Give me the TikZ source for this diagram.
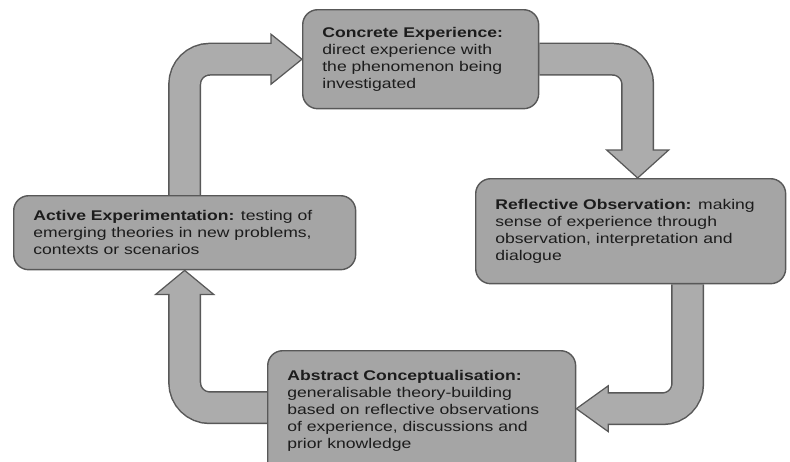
\documentclass[tikz,border=0pt]{standalone}
\usepackage{fontspec}
\newfontfamily\boxfont[FakeStretch=1.25]{Liberation Sans}
\usetikzlibrary{calc,backgrounds}
\definecolor{boxgray}{RGB}{165,165,165}
\definecolor{arrgray}{RGB}{172,172,172}
\definecolor{edgegray}{RGB}{88,88,88}
\definecolor{txtgray}{RGB}{28,28,28}

\begin{document}
\begin{tikzpicture}[x=0.02cm, y=-0.02cm,
    stage/.style={draw=edgegray, fill=boxgray, rounded corners=0.3cm, line width=0.8pt, anchor=north west, inner sep=0pt},
    txt/.style={anchor=west, align=left, inner sep=0pt, xshift=0.4cm, text=txtgray, font=\boxfont\fontsize{8}{9.6}\selectfont},
    bandout/.style={draw=edgegray, line width=0.66cm, rounded corners=0.5cm},
    bandin/.style={draw=arrgray, line width=0.6cm, rounded corners=0.5cm},
    head/.style={draw=edgegray, fill=arrgray, line width=0.7pt, line join=miter}
]
\useasboundingbox (0,0) rectangle (790,461);

% the four stages
\node[stage, minimum width=4.72cm, minimum height=1.98cm] (conc) at (302,9) {};
\node[stage, minimum width=6.2cm, minimum height=2.1cm] (refl) at (475,178) {};
\node[stage, minimum width=6.16cm, minimum height=2.64cm] (abst) at (267,350) {};
\node[stage, minimum width=6.84cm, minimum height=1.48cm] (act) at (13,195) {};

\node[txt] (conc-txt) at (conc.west) {\textbf{Concrete Experience:}\\direct experience with\\the phenomenon being\\investigated};
\node[txt] (refl-txt) at (refl.west) {\textbf{Reflective Observation:} making\\sense of experience through\\observation, interpretation and\\dialogue};
\node[txt] (abst-txt) at ($(abst.west)+(0,-6)$) {\textbf{Abstract Conceptualisation:}\\generalisable theory-building\\based on reflective observations\\of experience, discussions and\\prior knowledge};
\node[txt] (act-txt) at (act.west) {\textbf{Active Experimentation:} testing of\\emerging theories in new problems,\\contexts or scenarios};

% cycle arrows
\begin{scope}[on background layer]
\draw[bandout] (act.north) |- ($(conc.west)+(-29,0)$);
\filldraw[head] (conc.west) -- ++(-31,-25) -- ++(0,50) -- cycle;
\draw[bandin] (act.north) |- ($(conc.west)+(-29,0)$);

\draw[bandout] (conc.east) -| ($(refl.north)+(7,-26)$);
\filldraw[head] ($(refl.north)+(7,0)$) -- ++(-31,-28) -- ++(62,0) -- cycle;
\draw[bandin] (conc.east) -| ($(refl.north)+(7,-26)$);

\draw[bandout] ($(refl.south)+(57,0)$) |- ($(abst.east)+(30,-8)$);
\filldraw[head] ($(abst.east)+(0,-8)$) -- ++(32,-23) -- ++(0,46) -- cycle;
\draw[bandin] ($(refl.south)+(57,0)$) |- ($(abst.east)+(30,-8)$);

\draw[bandout] ($(abst.west)+(0,-9)$) -| ($(act.south)+(0,22)$);
\filldraw[head] (act.south) -- ++(-29,24) -- ++(58,0) -- cycle;
\draw[bandin] ($(abst.west)+(0,-9)$) -| ($(act.south)+(0,22)$);
\end{scope}
\end{tikzpicture}
\end{document}
